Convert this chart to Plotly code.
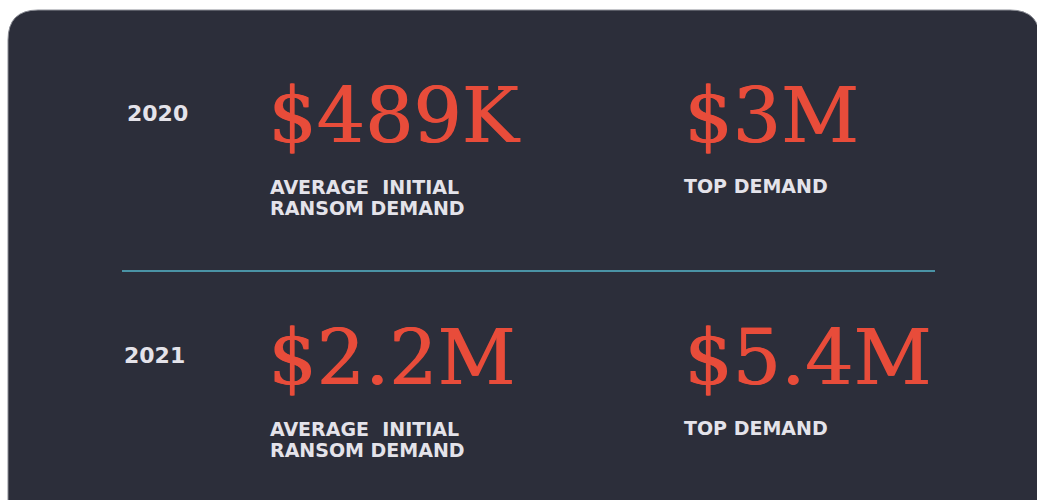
import plotly.graph_objects as go

# ransom demand figures per year
years = ["2020", "2021"]
avg_demand = ["$489K", "$2.2M"]
top_demand = ["$3M", "$5.4M"]
avg_label = ["AVERAGE  INITIAL", "RANSOM DEMAND"]
top_label = "TOP DEMAND"

W, H = 1037, 500
card = "#2c2e3a"
red = "#e84c3a"
light = "#e4e3ea"
big_font = "DejaVu Serif"
small_font = "DejaVu Sans"

fig = go.Figure()

# dark card with rounded top corners
fig.add_shape(type="path",
              path="M 8,40 Q 8,10 38,10 L 1010,10 Q 1040,10 1040,40 L 1040,520 L 8,520 Z",
              fillcolor=card, line=dict(color="#8a8c94", width=1), layer="below")

# divider between the two years
fig.add_shape(type="line", x0=122, x1=935, y0=271, y1=271,
              line=dict(color="#55b6ca", width=1.5))

row_y = [115, 357]
year_x = [125, 122]
for i, yr in enumerate(years):
    y = row_y[i]
    fig.add_annotation(x=year_x[i], y=y - 2, text=f"<b>{yr}</b>", xanchor="left", yanchor="middle",
                       showarrow=False, font=dict(family=small_font, size=22, color=light))
    fig.add_annotation(x=266, y=y, text=avg_demand[i], xanchor="left", yanchor="middle",
                       showarrow=False,
                       font=dict(family=big_font, size=76, color=red, shadow="1px 0px 0px #e84c3a"))
    fig.add_annotation(x=682, y=y, text=top_demand[i], xanchor="left", yanchor="middle",
                       showarrow=False,
                       font=dict(family=big_font, size=76, color=red, shadow="1px 0px 0px #e84c3a"))
    for j, line in enumerate(avg_label):
        fig.add_annotation(x=268, y=y + 72 + 21 * j, text=f"<b>{line}</b>", xanchor="left",
                           yanchor="middle", showarrow=False,
                           font=dict(family=small_font, size=19, color=light))
    fig.add_annotation(x=682, y=y + 71, text=f"<b>{top_label}</b>", xanchor="left", yanchor="middle",
                       showarrow=False, font=dict(family=small_font, size=19, color=light))

fig.update_xaxes(range=[0, W], visible=False, fixedrange=True)
fig.update_yaxes(range=[H, 0], visible=False, fixedrange=True)
fig.update_layout(width=W, height=H, margin=dict(l=0, r=0, t=0, b=0),
                  paper_bgcolor="white", plot_bgcolor="white", showlegend=False)

# drop the default page margin so the figure fills the window
fig.write_html("out.html", config={"displayModeBar": False},
               post_script="document.body.style.margin='0';")
